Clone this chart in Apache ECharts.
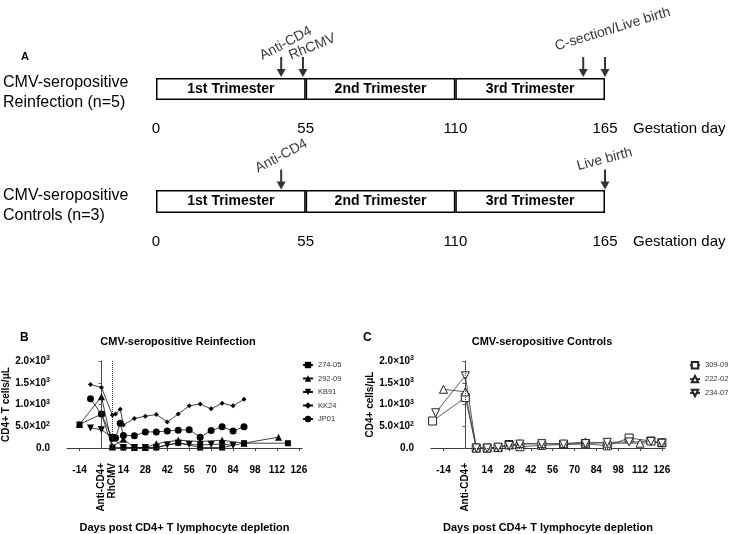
<!DOCTYPE html>
<html>
<head>
<meta charset="utf-8">
<script src="https://cdn.jsdelivr.net/npm/echarts@6/dist/echarts.min.js"></script>
<style>
  html, body { margin: 0; padding: 0; background: #fff; }
  #chart { width: 731px; height: 534px; }
</style>
</head>
<body>
<div id="chart"></div>
<script>
// ---- panel A: gestation timeline ----
var trimesterEdges = [0, 55, 110, 165];
var trimesterNames = ['1st Trimester', '2nd Trimester', '3rd Trimester'];
var rowNames = [['CMV-seropositive', 'Reinfection (n=5)'], ['CMV-seropositive', 'Controls (n=3)']];
var reinfArrowDays = [46, 54, 157, 165];
var reinfArrowLabels = ['Anti-CD4', 'RhCMV', 'C-section/Live birth', ''];
var ctrlArrowDays = [46, 165];
var ctrlArrowLabels = ['Anti-CD4', 'Live birth'];

// ---- panels B and C: CD4+ counts ----
var xTickDays = [-14, 14, 28, 42, 56, 70, 84, 98, 112, 126];
var reinfEventDays = [0, 7];
var reinfEventNames = ['Anti-CD4+', 'RhCMV'];
var ctrlEventDays = [0];
var ctrlEventNames = ['Anti-CD4+'];
var yTickMantissa = ['0.0', '5.0', '1.0', '1.5', '2.0'];
var yTickExp = ['', '2', '3', '3', '3'];

// reinfection animals
var days27405 = [-14, 0, 7, 14, 21, 28, 35, 49, 63, 77, 91, 119];
var vals27405 = [540, 780, 15, 10, 10, 10, 10, 120, 10, 10, 110, 110];
var days29209 = [-14, 0, 7, 14, 21, 28, 35, 49, 63, 77, 91, 113];
var vals29209 = [540, 1180, 30, 200, 10, 10, 100, 180, 150, 180, 110, 250];
var daysKB91 = [-7, 0, 7, 14, 21, 28, 35, 42, 49, 56, 63, 70, 77, 84];
var valsKB91 = [460, 420, 240, 10, 10, 10, 10, 70, 110, 80, 70, 80, 90, 60];
var daysKK24 = [-7, 0, 7, 9, 12, 14, 21, 28, 35, 42, 49, 56, 63, 70, 77, 84, 91];
var valsKK24 = [1460, 1390, 760, 780, 890, 530, 680, 730, 770, 600, 780, 970, 1010, 900, 1030, 970, 1120];
var daysJP01 = [-7, 0, 7, 9, 12, 14, 21, 28, 35, 42, 49, 56, 63, 70, 77, 84, 91];
var valsJP01 = [1130, 780, 220, 230, 570, 290, 280, 370, 370, 390, 410, 420, 250, 400, 490, 390, 490];

// control animals
var days30909 = [-21, 0, 7, 14, 21, 28, 35, 49, 63, 77, 91, 105, 119, 126];
var vals30909 = [620, 1160, 0, 0, 10, 80, 30, 60, 80, 100, 50, 230, 160, 120];
var days22202 = [-14, 0, 7, 14, 21, 28, 35, 49, 63, 77, 91, 112, 126];
var vals22202 = [1350, 1290, 0, 0, 10, 70, 100, 100, 100, 140, 110, 110, 130];
var days23407 = [-19, 0, 7, 14, 21, 28, 35, 49, 63, 77, 91, 105, 119, 126];
var vals23407 = [810, 1660, 0, 0, 20, 60, 90, 100, 90, 100, 130, 140, 150, 110];

function zip(a, b) {
  return a.map(function (d, i) { return [d, b[i]]; });
}

var FONT = 'Liberation Sans';
var ARROW = 'path://M3.5,0 L5.5,0 L5.5,12 L9,12 L4.5,20 L0,12 L3.5,12 Z';
var TRI_DOWN = 'path://M0,0 L10,0 L5,9 Z';

// label placement for the arrow notes (style only)
var reinfLabelStyle = [
  {rotate: 28, offset: [10, -2]},
  {rotate: 22, offset: [12, 2]},
  {rotate: 17, offset: [36, -10]},
  {}
];
var ctrlLabelStyle = [
  {rotate: 28, offset: [6, -4]},
  {rotate: 15, offset: [2, -2]}
];

function timelineSeries(gridIdx, days, labels, styles) {
  var list = [];
  trimesterNames.forEach(function (n, i) {
    list.push({
      type: 'bar',
      name: n,
      xAxisIndex: gridIdx,
      yAxisIndex: gridIdx,
      stack: 'tri' + gridIdx,
      barWidth: '100%',
      data: [trimesterEdges[i + 1] - trimesterEdges[i]],
      itemStyle: {color: '#fff', borderColor: '#000', borderWidth: 1.5},
      label: {
        show: true, position: 'inside', formatter: n,
        color: '#000', fontFamily: FONT, fontWeight: 'bold', fontSize: 14
      },
      silent: true
    });
  });
  list.push({
    type: 'scatter',
    xAxisIndex: gridIdx,
    yAxisIndex: gridIdx,
    symbol: ARROW,
    symbolSize: [9, 20],
    symbolOffset: [0, -22],
    clip: false,
    z: 5,
    itemStyle: {color: '#000'},
    data: days.map(function (d, i) {
      var s = styles[i] || {};
      return {
        value: [d, 0],
        label: {
          show: !!labels[i], formatter: labels[i], position: 'top', distance: 1,
          rotate: s.rotate || 0, offset: s.offset || [0, 0],
          color: '#000', fontFamily: FONT, fontSize: 14
        }
      };
    })
  });
  return list;
}

function yLabel(v) {
  var k = Math.round(v / 500);
  if (!yTickExp[k]) return '{m|' + yTickMantissa[k] + '}';
  return '{m|' + yTickMantissa[k] + '×10}{s|' + yTickExp[k] + '}';
}

var yRich = {
  m: {fontFamily: FONT, fontWeight: 'bold', fontSize: 10, color: '#000', lineHeight: 12},
  s: {fontFamily: FONT, fontWeight: 'bold', fontSize: 7, color: '#000', verticalAlign: 'top', lineHeight: 8}
};

function countYAxis(gridIdx, name) {
  return {
    type: 'value', gridIndex: gridIdx, min: 0, max: 2000, interval: 500,
    offset: 14,
    name: name, nameLocation: 'middle', nameGap: 38,
    nameTextStyle: {fontFamily: FONT, fontWeight: 'bold', fontSize: 10, color: '#000'},
    axisLine: {show: true, lineStyle: {color: '#666', width: 1}},
    axisTick: {show: true, length: 3, lineStyle: {color: '#666'}},
    splitLine: {show: false},
    axisLabel: {margin: 3, formatter: yLabel, rich: yRich}
  };
}

function countXAxes(gridIdx, withName) {
  var main = {
    type: 'value', gridIndex: gridIdx, min: -22, max: 128, position: 'bottom', offset: 12,
    axisLine: {show: true, lineStyle: {color: '#444', width: 1}},
    axisTick: {show: true, length: 3, customValues: xTickDays, lineStyle: {color: '#444'}},
    splitLine: {show: false},
    axisLabel: {
      customValues: xTickDays, margin: 5,
      fontFamily: FONT, fontWeight: 'bold', fontSize: 10, color: '#000'
    }
  };
  if (withName) {
    main.name = 'Days post CD4+ T lymphocyte depletion';
    main.nameLocation = 'middle';
    main.nameGap = 62;
    main.nameTextStyle = {fontFamily: FONT, fontWeight: 'bold', fontSize: 11, color: '#000'};
  }
  return main;
}

function eventXAxis(gridIdx, days, names) {
  return {
    type: 'value', gridIndex: gridIdx, min: -22, max: 128, position: 'bottom', offset: 12,
    axisLine: {show: false},
    axisTick: {show: false},
    splitLine: {show: false},
    axisLabel: {
      customValues: days, rotate: 90, margin: 3,
      formatter: function (v) { return names[days.indexOf(v)] || ''; },
      fontFamily: FONT, fontWeight: 'bold', fontSize: 10, color: '#000'
    }
  };
}

function refLines(eventDays) {
  return {
    silent: true, symbol: 'none', animation: false,
    label: {show: false},
    lineStyle: {type: 'dotted', color: '#333', width: 1},
    data: [{yAxis: 0}].concat(eventDays.map(function (d) { return {xAxis: d}; }))
  };
}

function countSeries(name, days, vals, symbol, size, filled, axisIdx, extra) {
  var s = {
    type: 'line', name: name,
    xAxisIndex: axisIdx[0], yAxisIndex: axisIdx[1],
    data: zip(days, vals),
    symbol: symbol, symbolSize: size, showAllSymbol: true,
    lineStyle: {color: filled ? '#111' : '#333', width: 0.8},
    itemStyle: filled ? {color: '#000'} : {color: '#fff', borderColor: '#222', borderWidth: 1},
    animation: false
  };
  if (extra) s.markLine = extra;
  return s;
}

var bAx = [2, 2];
var cAx = [4, 3];

var series = []
  .concat(timelineSeries(0, reinfArrowDays, reinfArrowLabels, reinfLabelStyle))
  .concat(timelineSeries(1, ctrlArrowDays, ctrlArrowLabels, ctrlLabelStyle))
  .concat([
    countSeries('274-05', days27405, vals27405, 'rect', 6, true, bAx, refLines(reinfEventDays)),
    countSeries('292-09', days29209, vals29209, 'triangle', 7, true, bAx),
    countSeries('KB91', daysKB91, valsKB91, TRI_DOWN, 7, true, bAx),
    countSeries('KK24', daysKK24, valsKK24, 'diamond', 5, true, bAx),
    countSeries('JP01', daysJP01, valsJP01, 'circle', 7, true, bAx),
    countSeries('309-09', days30909, vals30909, 'rect', 8, false, cAx, refLines(ctrlEventDays)),
    countSeries('222-02', days22202, vals22202, 'triangle', 8, false, cAx),
    countSeries('234-07', days23407, vals23407, TRI_DOWN, 8, false, cAx)
  ]);

function timelineY(gridIdx) {
  var lines = rowNames[gridIdx];
  return {
    type: 'category', gridIndex: gridIdx, data: [lines.join(' ')],
    axisLine: {show: false}, axisTick: {show: false}, splitLine: {show: false},
    axisLabel: {
      align: 'left', margin: 153,
      // blank spacer line pushes the two-line label down a little
      formatter: function () {
        return '{p| }\n{r|' + lines[0] + '}\n{r|' + lines[1] + '}';
      },
      rich: {
        p: {fontSize: 1, lineHeight: 8},
        r: {fontFamily: FONT, fontSize: 16, lineHeight: 20, color: '#000'}
      }
    }
  };
}

function timelineX(gridIdx) {
  return {
    type: 'value', gridIndex: gridIdx, min: 0, max: 165, interval: 55,
    axisLine: {show: false}, axisTick: {show: false}, splitLine: {show: false},
    axisLabel: {margin: 21, fontFamily: FONT, fontSize: 15, color: '#000'},
    name: 'Gestation day', nameLocation: 'end', nameGap: 28,
    nameTextStyle: {fontFamily: FONT, fontSize: 15, color: '#000', verticalAlign: 'top', padding: [21, 0, 0, 0]}
  };
}

var legendText = {fontFamily: FONT, fontSize: 7.5, color: '#333'};

var chart = echarts.init(document.getElementById('chart'));
chart.setOption({
  backgroundColor: '#fff',
  animation: false,
  title: [
    {text: 'A', left: 16, top: 46, textStyle: {fontFamily: FONT, fontWeight: 'bold', fontSize: 11, color: '#000'}},
    {text: 'B', left: 15, top: 327, textStyle: {fontFamily: FONT, fontWeight: 'bold', fontSize: 12, color: '#000'}},
    {text: 'C', left: 358, top: 327, textStyle: {fontFamily: FONT, fontWeight: 'bold', fontSize: 12, color: '#000'}},
    {text: 'CMV-seropositive Reinfection', left: 173, top: 331, textAlign: 'center',
      textStyle: {fontFamily: FONT, fontWeight: 'bold', fontSize: 11, color: '#000'}},
    {text: 'CMV-seropositive Controls', left: 537, top: 331, textAlign: 'center',
      textStyle: {fontFamily: FONT, fontWeight: 'bold', fontSize: 11, color: '#000'}}
  ],
  legend: [
    {
      data: ['274-05', '292-09', 'KB91', 'KK24', 'JP01'],
      orient: 'vertical', left: 302, top: 361, padding: 0,
      itemWidth: 10, itemHeight: 8, itemGap: 5.5,
      textStyle: legendText, selectedMode: false
    },
    {
      data: ['309-09', '222-02', '234-07'],
      orient: 'vertical', left: 689, top: 361, padding: 0,
      itemWidth: 10, itemHeight: 8, itemGap: 5.5,
      textStyle: legendText, selectedMode: false
    }
  ],
  grid: [
    {left: 155, right: 126, top: 78, height: 22},
    {left: 155, right: 126, top: 190, height: 23},
    {left: 67, right: 429, top: 361, bottom: 86},
    {left: 431, right: 66, top: 361, bottom: 86}
  ],
  xAxis: [
    timelineX(0),
    timelineX(1),
    countXAxes(2, true),
    eventXAxis(2, reinfEventDays, reinfEventNames),
    countXAxes(3, true),
    eventXAxis(3, ctrlEventDays, ctrlEventNames)
  ],
  yAxis: [
    timelineY(0),
    timelineY(1),
    countYAxis(2, 'CD4+ T cells/μL'),
    countYAxis(3, 'CD4+ cells/μL')
  ],
  series: series
});
</script>
</body>
</html>
